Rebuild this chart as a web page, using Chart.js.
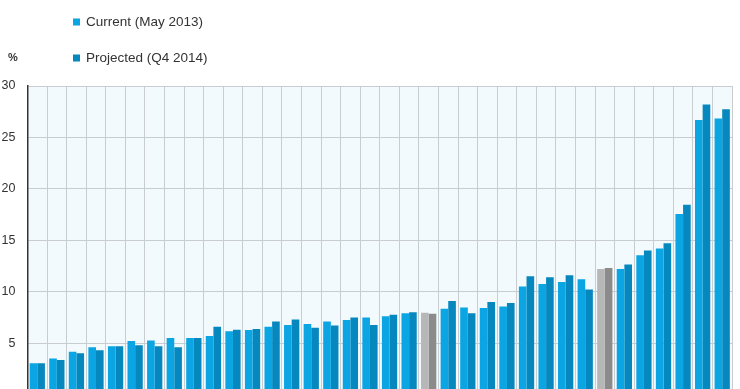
<!DOCTYPE html>
<html>
<head>
<meta charset="utf-8">
<script src="https://cdn.jsdelivr.net/npm/chart.js@4"></script>
<style>
  html, body { margin: 0; padding: 0; background: #fff; overflow: hidden; }
  #wrap { width: 740px; height: 389px; overflow: hidden; }
</style>
</head>
<body>
<div id="wrap"><canvas id="unempChart" width="740" height="414"></canvas></div>
<script>
// country order as in the chart (labels fall below the visible area)
const countries = ['KOR', 'NOR', 'JPN', 'CHE', 'AUT', 'MEX', 'DEU', 'ISL', 'LUX', 'AUS',
  'ISR', 'NZL', 'NLD', 'CZE', 'CAN', 'DNK', 'CHL', 'USA', 'GBR', 'BEL',
  'OECD', 'SWE', 'FIN', 'TUR', 'EST', 'HUN', 'POL', 'SVN', 'FRA',
  'Euro area', 'ITA', 'IRL', 'SVK', 'PRT', 'GRC', 'ESP'];

const current = [3.05, 3.5, 4.15, 4.6, 4.7, 5.2, 5.25, 5.5, 5.5, 5.7,
  6.15, 6.27, 6.6, 6.75, 6.85, 7.1, 7.25, 7.5, 7.6, 7.9,
  7.95, 8.35, 8.45, 8.4, 8.55, 10.5, 10.75, 10.95, 11.2,
  12.2, 12.2, 13.55, 14.2, 17.55, 26.7, 26.85];

const projected = [3.05, 3.35, 4.0, 4.3, 4.7, 4.8, 4.7, 4.6, 5.5, 6.6,
  6.3, 6.36, 7.1, 7.3, 6.5, 6.7, 7.5, 6.75, 7.75, 8.0,
  7.85, 9.1, 7.9, 9.0, 8.9, 11.5, 11.4, 11.6, 10.2,
  12.3, 12.65, 14.0, 14.7, 18.45, 28.2, 27.75];

const aggregates = ['OECD', 'Euro area'];
const yTicks = [0, 5, 10, 15, 20, 25, 30];

const currentColors = countries.map(c => aggregates.includes(c) ? '#b7b7b7' : '#0aa5e2');
const projectedColors = countries.map(c => aggregates.includes(c) ? '#8b8b8b' : '#0687bd');

const plotBg = {
  id: 'plotBg',
  beforeDraw(chart) {
    const { ctx, chartArea: a } = chart;
    ctx.save();
    ctx.fillStyle = '#f2fafe';
    ctx.fillRect(a.left, a.top, a.right - a.left, a.bottom - a.top);
    ctx.restore();
  }
};

// legend stacked in a column, plus the "%" unit label
const sideLegend = {
  id: 'sideLegend',
  afterDraw(chart) {
    const ctx = chart.ctx;
    const rows = [
      { text: chart.data.datasets[0].label, color: '#0aa5e2', y: 22 },
      { text: chart.data.datasets[1].label, color: '#0687bd', y: 58 }
    ];
    ctx.save();
    ctx.font = '13.5px "Liberation Sans", Arial, sans-serif';
    ctx.textBaseline = 'middle';
    rows.forEach(r => {
      ctx.fillStyle = r.color;
      ctx.fillRect(73, r.y - 3.5, 7, 7);
      ctx.fillStyle = '#333';
      ctx.fillText(r.text, 86, r.y);
    });
    ctx.font = 'bold 11px "Liberation Sans", Arial, sans-serif';
    ctx.fillText('%', 8, 58);
    ctx.restore();
  }
};

new Chart(document.getElementById('unempChart').getContext('2d'), {
  type: 'bar',
  data: {
    labels: countries,
    datasets: [{
      label: 'Current (May 2013)',
      data: current,
      backgroundColor: currentColors,
      categoryPercentage: 0.78,
      barPercentage: 1.0
    }, {
      label: 'Projected (Q4 2014)',
      data: projected,
      backgroundColor: projectedColors,
      categoryPercentage: 0.78,
      barPercentage: 1.0
    }]
  },
  options: {
    responsive: false,
    animation: false,
    layout: { padding: { top: 86, left: 0, right: 8, bottom: 6 } },
    plugins: {
      legend: { display: false },
      tooltip: { enabled: false }
    },
    scales: {
      x: {
        ticks: { display: false },
        grid: { color: '#c9ccd0', drawTicks: false, offset: true },
        border: { color: '#333' }
      },
      y: {
        min: 0,
        max: 30,
        afterBuildTicks: scale => { scale.ticks = yTicks.map(v => ({ value: v })); },
        afterFit: scale => { scale.width = 27.5; },
        ticks: {
          padding: 12,
          color: '#333',
          font: { family: '"Liberation Sans", Arial, sans-serif', size: 12.5 }
        },
        grid: { color: '#c9ccd0', drawTicks: false },
        border: { color: '#333', width: 1.5 }
      }
    }
  },
  plugins: [plotBg, sideLegend]
});
</script>
</body>
</html>
